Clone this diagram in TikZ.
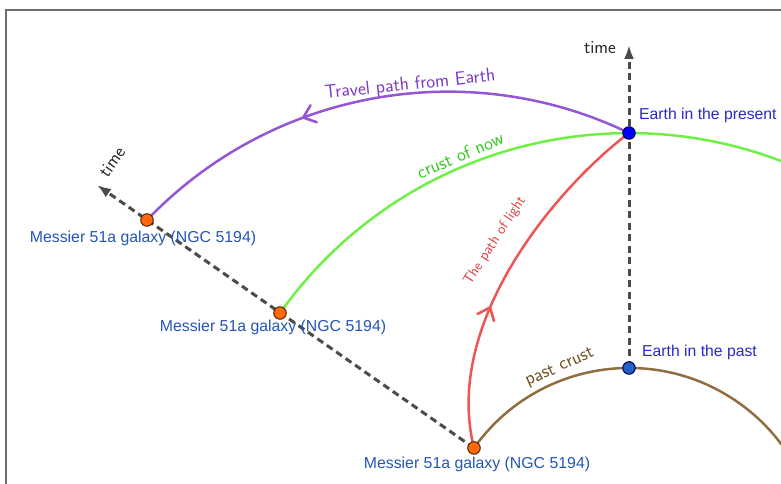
\documentclass[tikz,border=0pt]{standalone}
\usepackage{fontspec}
\newfontfamily\arialf{Liberation Sans}
\usetikzlibrary{arrows.meta,decorations.markings}
\definecolor{purp}{RGB}{150,85,210}
\definecolor{purptxt}{RGB}{125,60,195}
\definecolor{grn}{RGB}{110,240,70}
\definecolor{grntxt}{RGB}{55,200,35}
\definecolor{redc}{RGB}{238,85,85}
\definecolor{redtxt}{RGB}{220,60,60}
\definecolor{brn}{RGB}{145,110,65}
\definecolor{brntxt}{RGB}{110,80,35}
\definecolor{axisg}{RGB}{75,75,75}
\definecolor{earthblue}{RGB}{40,40,200}
\definecolor{galblue}{RGB}{35,85,185}
\definecolor{orangedot}{RGB}{255,105,10}
\definecolor{framegray}{RGB}{110,110,110}
\begin{document}
\begin{tikzpicture}[x=1bp,y=1bp,
  timeaxis/.style={axisg,line width=3bp,dash pattern=on 7bp off 4.5bp,-{Latex[length=14bp,width=10bp]}},
  curve/.style={line width=2.5bp},
  galdot/.style={circle,fill=orangedot,draw=black!70!orange,line width=1bp,minimum size=12.5bp,inner sep=0pt},
  earthdot/.style={circle,draw=black!70!blue,line width=1bp,minimum size=12.5bp,inner sep=0pt},
  gallabel/.style={text=galblue,font=\arialf\fontsize{15.9}{18}\selectfont,inner sep=0pt},
  earthlabel/.style={text=earthblue,font=\arialf\fontsize{15.8}{18}\selectfont,inner sep=0pt,anchor=west},
  sflabel/.style={font=\sffamily\fontsize{19}{22}\selectfont,inner sep=0pt},
  midarrow/.style 2 args={postaction={decorate},decoration={markings,mark=at position #1 with {\draw[#2,line width=2.6bp,line cap=round,line join=miter] (-11bp,9bp) -- (0,0) -- (-11bp,-9bp);}}}
]
\useasboundingbox (0,0) rectangle (781,484);
\clip (0,0) rectangle (781,484);
% frame
\draw[framegray,line width=1.8bp] (6,-5) -- (6,474) -- (790,474);
% points
\coordinate (E1) at (629,351);
\coordinate (E0) at (629,116);
\coordinate (G0) at (474,36);
\coordinate (G1) at (280,171);
\coordinate (G2) at (147,264);
\coordinate (T1) at (629,439);
\coordinate (T2) at (97,299);
% axes
\draw[timeaxis] (E0) -- (T1);
\draw[timeaxis] (G0) -- (T2);
% curves
\draw[brn,curve] (G0) arc[start angle=144.6,end angle=20,radius=190.2];
\draw[grn,curve] (G1) arc[start angle=144.57,end angle=55,radius=428];
\draw[purp,curve,midarrow={0.64}{purp}] (E1) to[bend right=36,looseness=0.94] (G2);
\draw[redc,curve,midarrow={0.39}{redc}] (G0) .. controls (442,164) and (560,299) .. (E1);
% dots
\node[galdot] (g0) at (G0) {};
\node[galdot] (g1) at (G1) {};
\node[galdot] (g2) at (G2) {};
\node[earthdot,fill=blue] (e1) at (E1) {};
\node[earthdot,fill={rgb,255:red,30;green,95;blue,200}] (e0) at (E0) {};
% labels
\node[gallabel] (l2) at (143,246) {Messier 51a galaxy (NGC 5194)};
\node[gallabel] (l1) at (273,157) {Messier 51a galaxy (NGC 5194)};
\node[gallabel] (l0) at (477,20) {Messier 51a galaxy (NGC 5194)};
\node[earthlabel] (le1) at (639,369) {Earth in the present};
\node[earthlabel] (le0) at (642,132) {Earth in the past};
\node[sflabel,text=black!85,font=\sffamily\fontsize{18.5}{22}\selectfont] (t1) at (600,436) {time};
\node[sflabel,text=black!85,font=\sffamily\fontsize{18.5}{22}\selectfont,rotate=55] (t2) at (112,322) {time};
\node[sflabel,text=purptxt,rotate=6] (lp) at (410,399) {Travel path from Earth};
\node[sflabel,text=grntxt,rotate=23] (lg) at (460,329) {crust of now};
\node[sflabel,text=brntxt,rotate=24] (lb) at (560,116) {past crust};
\node[sflabel,text=redtxt,font=\sffamily\fontsize{14.5}{17}\selectfont,rotate=57] (lr) at (495,243) {The path of light};
\end{tikzpicture}
\end{document}
